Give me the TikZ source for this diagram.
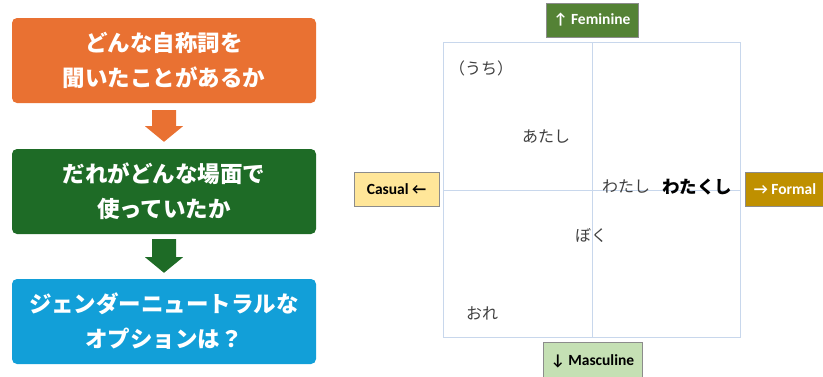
\documentclass[tikz,border=0pt]{standalone}
\usepackage{fontspec}
\newfontfamily\jp{Noto Sans CJK JP}
\newfontfamily\calfont{Carlito}
\usetikzlibrary{calc}
\definecolor{qorange}{HTML}{E97132}
\definecolor{qgreen}{HTML}{1E6B26}
\definecolor{qblue}{HTML}{129FD8}
\definecolor{femc}{HTML}{548235}
\definecolor{formc}{HTML}{BF9000}
\definecolor{casc}{HTML}{FFE699}
\definecolor{masc}{HTML}{C5E0B4}
\definecolor{gridc}{HTML}{C8D7EC}
\definecolor{wordc}{HTML}{404040}
\tikzset{
  qbox/.style={rounded corners=5pt, minimum width=304pt, minimum height=85pt, inner sep=0pt,
    text=white, align=center, font=\jp\bfseries\fontsize{22.5}{35}\selectfont},
  axislabel/.style={draw=black!45, line width=0.6pt, minimum height=34pt, inner sep=0pt,
    font=\calfont\bfseries\fontsize{15.5}{16}\selectfont},
  word/.style={text=wordc, inner sep=0pt, font=\jp\fontsize{16}{18}\selectfont},
  gridline/.style={draw=gridc, line width=0.8pt}
}
\begin{document}
\begin{tikzpicture}[x=1pt,y=-1pt]
\useasboundingbox (0,0) rectangle (823,376);
\clip (0,0) rectangle (823,376);
% left flow
\node[qbox, fill=qorange] (q1) at (164,60.5) {どんな自称詞を\\聞いたことがあるか};
\node[qbox, fill=qgreen] (q2) at (164,191.5) {だれがどんな場面で\\使っていたか};
\node[qbox, fill=qblue] (q3) at (164,321.5) {ジェンダーニュートラルな\\オプションは？};
\fill[qorange] ($(q1.south)+(-12,7)$) -- ($(q1.south)+(12,7)$) -- ($(q1.south)+(12,23)$)
  -- ($(q1.south)+(19,23)$) -- ($(q2.north)+(0,-7)$) -- ($(q1.south)+(-19,23)$)
  -- ($(q1.south)+(-12,23)$) -- cycle;
\fill[qgreen] ($(q2.south)+(-12,5)$) -- ($(q2.south)+(12,5)$) -- ($(q2.south)+(12,23)$)
  -- ($(q2.south)+(19,23)$) -- ($(q3.north)+(0,-6)$) -- ($(q2.south)+(-19,23)$)
  -- ($(q2.south)+(-12,23)$) -- cycle;
% grid
\node[gridline, draw, minimum width=297pt, minimum height=295pt, inner sep=0pt] (grid) at (591.5,189.5) {};
\coordinate (vtop) at (592,42);
\coordinate (vbot) at (592,337);
\coordinate (hl) at (443,190);
\coordinate (hr) at (740,190);
\draw[gridline] (vtop) -- (vbot);
\draw[gridline] (hl) -- (hr);
% axis labels
\node[axislabel, fill=femc, text=white, minimum width=92pt] (fem) at (592,20) {↑ Feminine};
\node[axislabel, fill=casc, text=black, minimum width=85pt] (cas) at (396.5,189.5) {Casual ←};
\node[axislabel, fill=formc, text=white, minimum width=90pt] (form) at (790,189.5) {\hspace*{-10pt}→ Formal};
\node[axislabel, fill=masc, text=black, minimum width=99pt, minimum height=38pt] (mas) at (592.5,361) {↓ Masculine};
% words
\node[word] (uchi) at (481,68) {（うち）};
\node[word] (atashi) at (546,137) {あたし};
\node[word] (watashi) at (626,187) {わたし};
\node[word, text=black, font=\jp\bfseries\fontsize{17.5}{18}\selectfont] (watakushi) at (697,187) {わたくし};
\node[word] (boku) at (591,235) {ぼく};
\node[word] (ore) at (482,313) {おれ};
\end{tikzpicture}
\end{document}
